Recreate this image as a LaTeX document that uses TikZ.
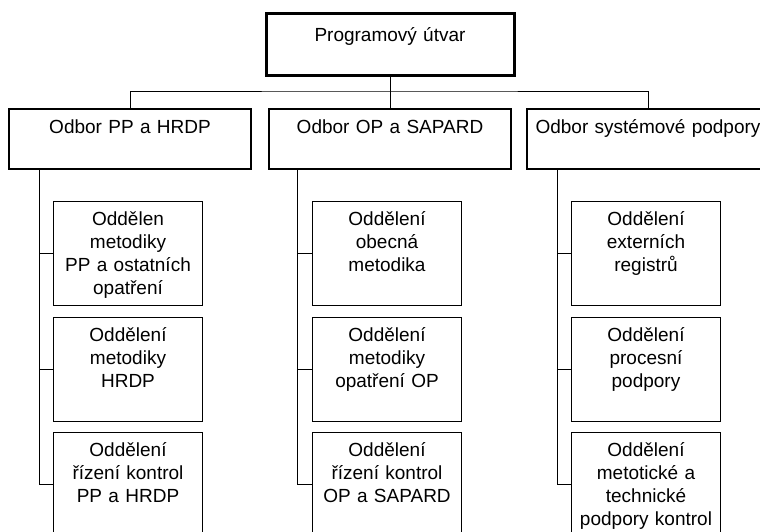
\documentclass[tikz,border=0pt]{standalone}
\usepackage{fontspec}
\setmainfont{Liberation Sans}
\usepackage{tikz}

\begin{document}
\begin{tikzpicture}[x=1pt, y=-1pt,
    every node/.style={font=\fontsize{19}{23}\selectfont, align=center, inner ysep=0pt, anchor=north},
    utvar/.style={draw, line width=3pt, minimum width=248pt, text width=240pt, text height=28pt, text depth=34pt},
    odbor/.style={draw, line width=2pt, minimum width=240pt, text width=236pt, text height=24pt, text depth=36pt},
    oddeleni/.style={draw, line width=1.2pt, minimum width=146pt, text width=142pt, text height=24pt, text depth=80pt},
    spoj/.style={line width=1pt}]
    \useasboundingbox (0,0) rectangle (760,531);
    \clip (0,0) rectangle (760,531);

    % programovy utvar
    \node[utvar] (pu) at (390,12) {Programový útvar};

    % odbory
    \node[odbor] (o1) at (130,108) {Odbor PP a HRDP};
    \node[odbor, minimum width=242pt] (o2) at (390,108) {Odbor OP a SAPARD};
    \node[odbor] (o3) at (648,108) {Odbor systémové podpory};

    % spojnice shora
    \coordinate (sb) at (390,91);
    \draw[spoj] (pu.south) -- (o2.north);
    \draw[spoj] (o1.north) |- (sb) -| (o3.north);

    % oddeleni - odbor PP a HRDP
    \node[oddeleni] (c11) at (128,201) {Oddělen\\metodiky\\PP a ostatních\\opatření};
    \node[oddeleni] (c12) at (128,316.5) {Oddělení\\metodiky\\HRDP};
    \node[oddeleni] (c13) at (128,432) {Oddělení\\řízení kontrol\\PP a HRDP};

    % oddeleni - odbor OP a SAPARD
    \node[oddeleni] (c21) at (387,201) {Oddělení\\obecná\\metodika};
    \node[oddeleni] (c22) at (387,316.5) {Oddělení\\metodiky\\opatření OP};
    \node[oddeleni] (c23) at (387,432) {Oddělení\\řízení kontrol\\OP a SAPARD};

    % oddeleni - odbor systemove podpory
    \node[oddeleni] (c31) at (646,201) {Oddělení\\externích\\registrů};
    \node[oddeleni] (c32) at (646,316.5) {Oddělení\\procesní\\podpory};
    \node[oddeleni] (c33) at (646,432) {Oddělení\\metotické a\\technické\\podpory kontrol};

    % svisle spojnice
    \coordinate (k1) at (39,168);
    \coordinate (k2) at (297,168);
    \coordinate (k3) at (557,168);
    \foreach \s in {1,2,3} {
        \draw[spoj] (k\s) |- (c\s3.west);
        \foreach \r in {1,2}
            \draw[spoj] (c\s\r.west) -- (c\s\r.west -| k\s);
    }
\end{tikzpicture}
\end{document}
